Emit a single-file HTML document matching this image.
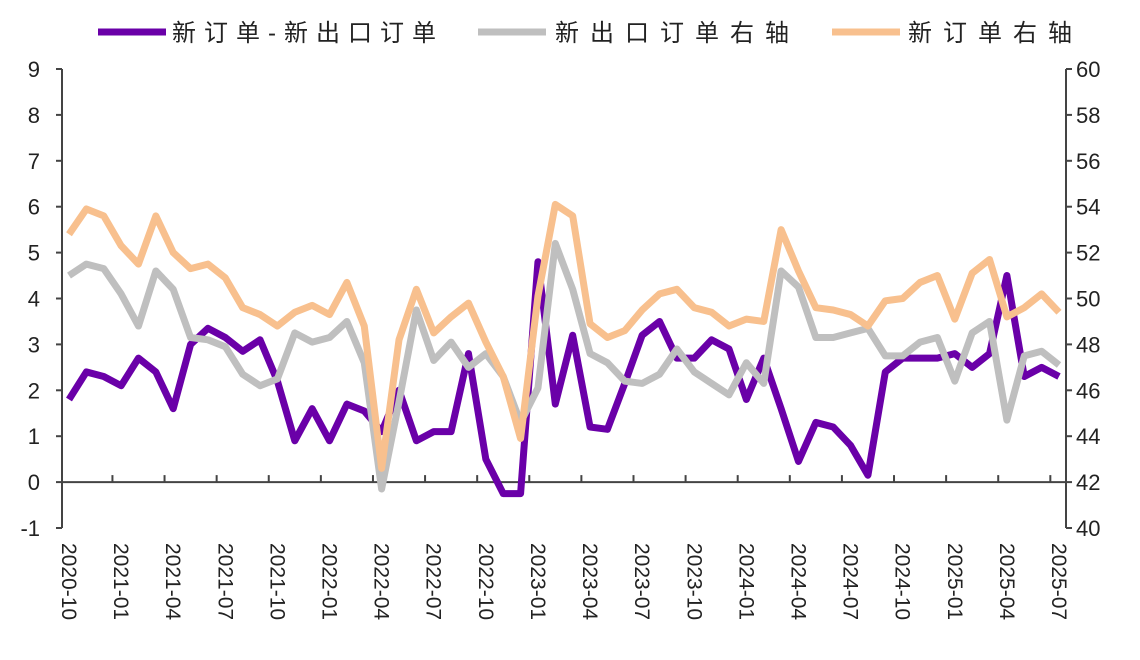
<!DOCTYPE html>
<html><head><meta charset="utf-8"><style>
html,body{margin:0;padding:0;background:#fff;}
svg{display:block;font-family:"Liberation Sans","Noto Sans CJK SC",sans-serif;}
</style></head><body>
<svg id="chart" width="1140" height="660" viewBox="0 0 1140 660">
<g id="legend">
<g><line x1="98" y1="32" x2="166" y2="32" stroke="#6a00a8" stroke-width="7"/><text x="172" y="41" font-size="24" letter-spacing="8" fill="#222">新订单-新出口订单</text></g>
<g><line x1="478" y1="32" x2="546" y2="32" stroke="#bfbfbf" stroke-width="7"/><text x="555" y="41" font-size="24" letter-spacing="11" fill="#222">新出口订单右轴</text></g>
<g><line x1="832" y1="32" x2="900" y2="32" stroke="#f8c08e" stroke-width="7"/><text x="908" y="41" font-size="24" letter-spacing="11" fill="#222">新订单右轴</text></g>
</g>
<g id="axes"></g>
<g id="series"></g>
</svg>
<script>
const months = ["2020-10","2020-11","2020-12","2021-01","2021-02","2021-03","2021-04","2021-05","2021-06","2021-07","2021-08","2021-09","2021-10","2021-11","2021-12","2022-01","2022-02","2022-03","2022-04","2022-05","2022-06","2022-07","2022-08","2022-09","2022-10","2022-11","2022-12","2023-01","2023-02","2023-03","2023-04","2023-05","2023-06","2023-07","2023-08","2023-09","2023-10","2023-11","2023-12","2024-01","2024-02","2024-03","2024-04","2024-05","2024-06","2024-07","2024-08","2024-09","2024-10","2024-11","2024-12","2025-01","2025-02","2025-03","2025-04","2025-05","2025-06","2025-07"];
const diffSeries = [1.8,2.4,2.3,2.1,2.7,2.4,1.6,3.0,3.35,3.15,2.85,3.1,2.2,0.9,1.6,0.9,1.7,1.55,1.1,2.0,0.9,1.1,1.1,2.8,0.5,-0.25,-0.25,4.8,1.7,3.2,1.2,1.15,2.15,3.2,3.5,2.7,2.7,3.1,2.9,1.8,2.7,1.6,0.45,1.3,1.2,0.8,0.15,2.4,2.7,2.7,2.7,2.8,2.5,2.8,4.5,2.3,2.5,2.3];
const exportSeries = [51.0,51.5,51.3,50.2,48.8,51.2,50.4,48.3,48.2,47.9,46.7,46.2,46.5,48.5,48.1,48.3,49.0,47.2,41.7,45.5,49.5,47.3,48.1,47.0,47.6,46.6,44.6,46.1,52.4,50.4,47.6,47.2,46.4,46.3,46.7,47.8,46.8,46.3,45.8,47.2,46.3,51.2,50.5,48.3,48.3,48.5,48.7,47.5,47.5,48.1,48.3,46.4,48.5,49.0,44.7,47.5,47.7,47.1];
const newOrderSeries = [52.8,53.9,53.6,52.3,51.5,53.6,52.0,51.3,51.5,50.9,49.6,49.3,48.8,49.4,49.7,49.3,50.7,48.8,42.6,48.2,50.4,48.5,49.2,49.8,48.1,46.6,43.9,50.1,54.1,53.6,48.9,48.3,48.6,49.5,50.2,50.4,49.6,49.4,48.8,49.1,49.0,53.0,51.2,49.6,49.5,49.3,48.8,49.9,50.0,50.7,51.0,49.1,51.1,51.7,49.2,49.6,50.2,49.4];
const leftTicks = [-1,0,1,2,3,4,5,6,7,8,9];
const rightTicks = [40,42,44,46,48,50,52,54,56,58,60];

const NS="http://www.w3.org/2000/svg";
const X0=69, X1=1059, L=62, R=1066, TOP=69, BOT=528;
const xOf=i=>X0+(X1-X0)*i/(months.length-1);
const yL=v=>BOT-(v+1)/10*(BOT-TOP);
const yR=v=>BOT-(v-40)/20*(BOT-TOP);
function mk(tag,attrs,parent){const e=document.createElementNS(NS,tag);for(const k in attrs)e.setAttribute(k,attrs[k]);parent.appendChild(e);return e;}
const axes=document.getElementById('axes');
const series=document.getElementById('series');
let e;
e=mk('line',{x1:L,y1:TOP,x2:L,y2:BOT,stroke:'#444','stroke-width':2},axes);


e=mk('line',{x1:R,y1:TOP,x2:R,y2:BOT,stroke:'#444','stroke-width':2},axes);


e=mk('line',{x1:L,y1:yL(0),x2:R,y2:yL(0),stroke:'#444','stroke-width':2},axes);


leftTicks.forEach(v=>{
  mk('line',{x1:L-6,y1:yL(v),x2:L,y2:yL(v),stroke:'#444','stroke-width':2},axes);
  e=mk('text',{x:40,y:yL(v)+8,'font-size':22,'text-anchor':'end',fill:'#222'},axes);
  e.textContent=v;
  
  
});
rightTicks.forEach(v=>{
  mk('line',{x1:R,y1:yR(v),x2:R+6,y2:yR(v),stroke:'#444','stroke-width':2},axes);
  e=mk('text',{x:1076,y:yR(v)+8,'font-size':22,fill:'#222'},axes);
  e.textContent=v;
  
  
});
months.forEach((m,i)=>{
  if(i%3===2) mk('line',{x1:xOf(i)+8.7,y1:yL(0),x2:xOf(i)+8.7,y2:yL(0)-7,stroke:'#444','stroke-width':2},axes);
  if(i%3===0){
    e=mk('text',{x:0,y:0,'font-size':21,fill:'#222',transform:`translate(${xOf(i)-7},543) rotate(90)`},axes);
    e.textContent=m;
    
    
  }
});
function line(data,yf,color,name){
  const p=mk('polyline',{points:data.map((v,i)=>xOf(i)+','+yf(v)).join(' '),fill:'none',stroke:color,'stroke-width':7,'stroke-linejoin':'round'},series);
  
  
}
line(diffSeries,yL,'#6a00a8','new-orders-minus-export-line');
line(exportSeries,yR,'#bfbfbf','new-export-orders-line');
line(newOrderSeries,yR,'#f8c08e','new-orders-line');
</script>
</body></html>
